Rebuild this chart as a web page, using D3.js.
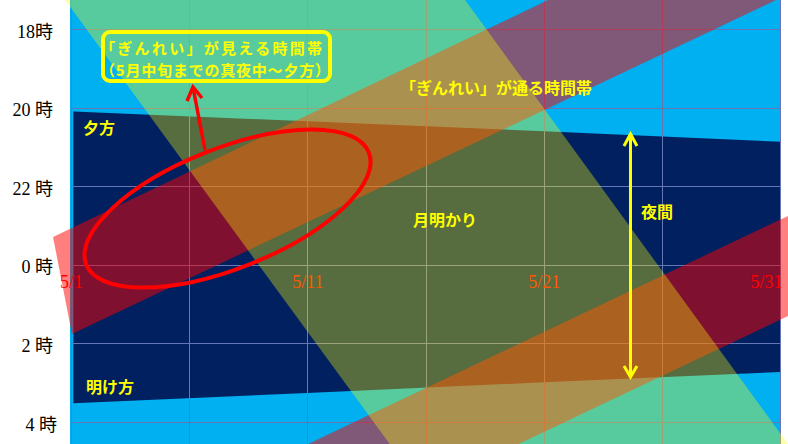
<!DOCTYPE html>
<html><head><meta charset="utf-8">
<script src="https://cdn.jsdelivr.net/npm/d3@7"></script>
<style>
html,body{margin:0;padding:0;background:#fff;}
svg{display:block;}
.jp{font-family:"Noto Sans CJK JP","Noto Sans",sans-serif;font-weight:700;font-size:16px;fill:#FFFF00;}
.jp.box{font-size:15px;}
.ax text{font-family:"Liberation Serif","DejaVu Serif","Noto Sans CJK JP",serif;font-size:18px;}
</style></head>
<body>
<svg id="c" width="788" height="444"></svg>
<script>
// ---- data (days of May, hours counted from 18:00 as 18..28) ----
const gridDays = [1, 6, 11, 16, 21, 26, 31];
const labelDays = [1, 11, 21, 31];
const dateLabels = ["5/1", "5/11", "5/21", "5/31"];
const hourTicks = [18, 20, 22, 24, 26, 28];
const hourLabels = ["18時", "20 時", "22 時", "0 時", "2 時", "4 時"];

// night (夜間): end of evening twilight / start of morning twilight
const nightDays  = [1.1, 11, 21, 31];
const nightStart = [20.1, 20.35, 20.6, 20.87];
const nightEnd   = [27.52, 27.26, 26.99, 26.73];

// moonlight band (月明かり)
const moonDays  = [0.43, 17.36, 31.87, 15.02];
const moonHours = [17.0, 17.0, 29.0, 29.0];

// 「ぎんれい」 pass bands (通る時間帯)
const passADays  = [0.24, 22.1, 31.75, 1.04];
const passAHours = [23.29, 17.0, 17.0, 25.76];
const passBDays  = [9.6, 31.85, 31.85, 18.5];
const passBHours = [28.97, 22.61, 25.16, 28.97];

// ---- drawing ----
const W = 788, H = 444;
const svg = d3.select("#c");
const x = d3.scaleLinear().domain([1, 31]).range([71, 780]);
const y = d3.scaleLinear().domain([18, 28]).range([29, 422]);

// plot background (sky)
svg.append("rect").attr("x", x(1) - 1).attr("y", 0)
  .attr("width", x(31) - x(1) + 1).attr("height", H).attr("fill", "#00B0F0");

// night
const nightData = nightDays.map((d, i) => ({d, s: nightStart[i], e: nightEnd[i]}));
svg.append("path").datum(nightData)
  .attr("d", d3.area().x(p => x(p.d)).y0(p => y(p.s)).y1(p => y(p.e)))
  .attr("fill", "#002060");

// grid
const grid = svg.append("g").attr("stroke", "#6676B4").attr("stroke-width", 1).attr("shape-rendering", "crispEdges");
grid.selectAll("line.v").data(gridDays).join("line").attr("class", "v")
  .attr("x1", d => Math.round(x(d)) + 0.5).attr("x2", d => Math.round(x(d)) + 0.5)
  .attr("y1", 0).attr("y2", H);
grid.selectAll("line.h").data(hourTicks).join("line").attr("class", "h")
  .attr("x1", x(1)).attr("x2", x(31))
  .attr("y1", d => Math.round(y(d)) + 0.5).attr("y2", d => Math.round(y(d)) + 0.5);

// y axis labels
const yAx = svg.append("g").attr("class", "ax").attr("transform", `translate(${x(1)},0)`)
  .call(d3.axisLeft(y).tickValues(hourTicks).tickFormat((d, i) => hourLabels[i]).tickSize(0).tickPadding(18));
yAx.select(".domain").remove();
yAx.selectAll("text").attr("fill", "#000").attr("dy", "0.45em");
yAx.selectAll(".tick").filter(d => d === 28).select("text").attr("x", -14);

// date labels (under the translucent bands)
const xAx = svg.append("g").attr("class", "ax").attr("transform", `translate(0,${y(24)})`)
  .call(d3.axisBottom(x).tickValues(labelDays).tickFormat((d, i) => dateLabels[i]).tickSize(0).tickPadding(10));
xAx.select(".domain").remove();
xAx.selectAll("text").attr("fill", "#FF0000");
xAx.selectAll(".tick").filter(d => d === 31).select("text").attr("text-anchor", "end").attr("x", 2);

// translucent bands
const poly = d3.line().x(p => x(p[0])).y(p => y(p[1]));
const passA = passADays.map((d, i) => [d, passAHours[i]]);
const passB = passBDays.map((d, i) => [d, passBHours[i]]);
const moon = moonDays.map((d, i) => [d, moonHours[i]]);
svg.append("path").attr("d", poly(passA) + "Z").attr("fill", "#FF0000").attr("fill-opacity", 0.5);
svg.append("path").attr("d", poly(passB) + "Z").attr("fill", "#FF0000").attr("fill-opacity", 0.5);
svg.append("path").attr("d", poly(moon) + "Z").attr("fill", "#FFFF00").attr("fill-opacity", 0.34);

// ---- annotations ----
// ellipse
svg.append("ellipse").attr("cx", 227.5).attr("cy", 208.5).attr("rx", 152).attr("ry", 60)
  .attr("transform", "rotate(-21.6 227.5 208.5)")
  .attr("fill", "none").attr("stroke", "#FF0000").attr("stroke-width", 4);
// red arrow to the box
svg.append("line").attr("x1", 205).attr("y1", 150).attr("x2", 193.5).attr("y2", 90)
  .attr("stroke", "#FF0000").attr("stroke-width", 3.5);
svg.append("path").attr("d", "M187,101 L193,87 L202,98")
  .attr("fill", "none").attr("stroke", "#FF0000").attr("stroke-width", 3.5).attr("stroke-linejoin", "miter");
// box
svg.append("rect").attr("x", 103).attr("y", 32).attr("width", 227).attr("height", 49).attr("rx", 7)
  .attr("fill", "none").attr("stroke", "#FFFF00").attr("stroke-width", 4);
svg.append("text").attr("class", "jp box").attr("x", 100).attr("y", 47).attr("dominant-baseline", "central")
  .attr("textLength", 222).attr("lengthAdjust", "spacing")
  .text("「ぎんれい」が見える時間帯");
svg.append("text").attr("class", "jp box").attr("x", 100).attr("y", 69).attr("dominant-baseline", "central")
  .attr("textLength", 230).attr("lengthAdjust", "spacing")
  .text("（5月中旬までの真夜中～夕方）");

// yellow double arrow (夜間)
svg.append("line").attr("x1", 630.5).attr("y1", 136).attr("x2", 630.5).attr("y2", 375)
  .attr("stroke", "#FFFF00").attr("stroke-width", 3);
svg.append("path").attr("d", "M624,146 L630.5,134 L637,146")
  .attr("fill", "none").attr("stroke", "#FFFF00").attr("stroke-width", 3);
svg.append("path").attr("d", "M624,366 L630.5,377 L637,366")
  .attr("fill", "none").attr("stroke", "#FFFF00").attr("stroke-width", 3);

// labels
const labels = [
  {t: "「ぎんれい」が通る時間帯", x: 400, y: 87},
  {t: "夕方", x: 83, y: 127},
  {t: "明け方", x: 86, y: 386},
  {t: "月明かり", x: 413, y: 219},
  {t: "夜間", x: 641, y: 211}
];
svg.selectAll("text.lbl").data(labels).join("text").attr("class", "jp lbl")
  .attr("x", d => d.x).attr("y", d => d.y).attr("dominant-baseline", "central").text(d => d.t);
</script>
</body></html>
